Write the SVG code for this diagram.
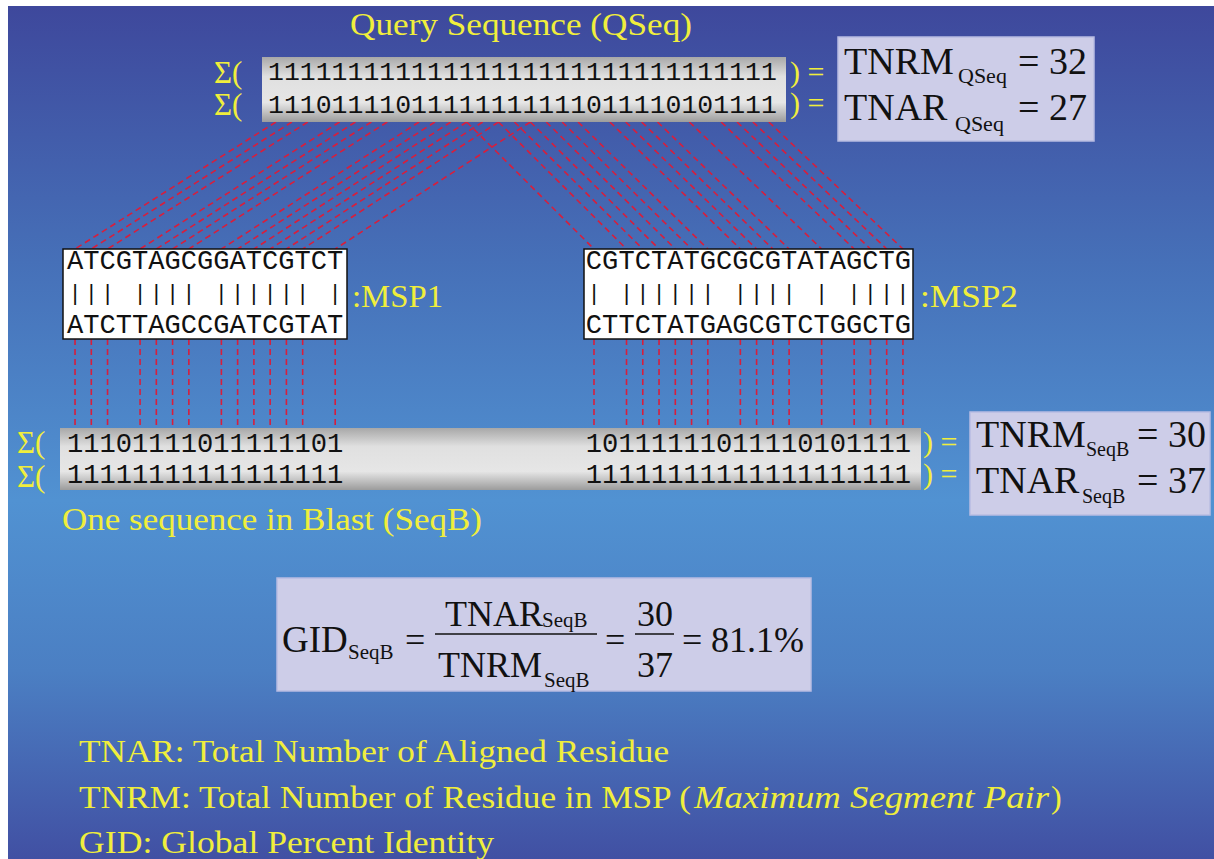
<svg xmlns="http://www.w3.org/2000/svg" width="1214" height="859" viewBox="0 0 1214 859">
<defs>
<linearGradient id="bg" x1="0" y1="0" x2="0" y2="1">
<stop offset="0" stop-color="#3e489c"/>
<stop offset="0.3" stop-color="#4670b8"/>
<stop offset="0.58" stop-color="#5192d2"/>
<stop offset="0.78" stop-color="#4b7fc3"/>
<stop offset="1" stop-color="#4150a3"/>
</linearGradient>
<linearGradient id="band" x1="0" y1="0" x2="0" y2="1">
<stop offset="0" stop-color="#a8a8a8"/>
<stop offset="0.3" stop-color="#e0e0e0"/>
<stop offset="0.7" stop-color="#e6e6e6"/>
<stop offset="1" stop-color="#9c9c9c"/>
</linearGradient>
<style>
.y{fill:#f0ee3c;font-family:"Liberation Serif","Times New Roman",serif;}
.seq{font-family:"Liberation Mono","Courier New",monospace;fill:#111;}
.m{font-family:"Liberation Serif","Times New Roman",serif;fill:#111;}
.d line{stroke:#d81e3c;stroke-width:1.6;stroke-dasharray:6 4;fill:none;}
.lav{fill:#cdcde8;stroke:#b8bce2;stroke-width:1.5;}
.msp{fill:#fff;stroke:#111;stroke-width:1.5;}
</style>
</defs>
<rect x="0" y="0" width="1214" height="859" fill="#fff"/>
<rect x="8" y="6" width="1206" height="853" fill="url(#bg)"/>

<g id="connectors" class="d">
<line x1="275.95" y1="122" x2="75.03" y2="249"/>
<line x1="291.85" y1="122" x2="91.29" y2="249"/>
<line x1="307.75" y1="122" x2="107.55" y2="249"/>
<line x1="339.55" y1="122" x2="140.07" y2="249"/>
<line x1="355.45" y1="122" x2="156.33" y2="249"/>
<line x1="371.35" y1="122" x2="172.59" y2="249"/>
<line x1="387.25" y1="122" x2="188.85" y2="249"/>
<line x1="419.05" y1="122" x2="221.37" y2="249"/>
<line x1="434.95" y1="122" x2="237.63" y2="249"/>
<line x1="450.85" y1="122" x2="253.89" y2="249"/>
<line x1="466.75" y1="122" x2="270.15" y2="249"/>
<line x1="482.65" y1="122" x2="286.41" y2="249"/>
<line x1="498.55" y1="122" x2="302.67" y2="249"/>
<line x1="530.35" y1="122" x2="335.19" y2="249"/>
<line x1="466.75" y1="122" x2="594" y2="249"/>
<line x1="498.55" y1="122" x2="626.52" y2="249"/>
<line x1="514.45" y1="122" x2="642.78" y2="249"/>
<line x1="530.35" y1="122" x2="659.04" y2="249"/>
<line x1="546.25" y1="122" x2="675.3" y2="249"/>
<line x1="562.15" y1="122" x2="691.56" y2="249"/>
<line x1="578.05" y1="122" x2="707.82" y2="249"/>
<line x1="609.85" y1="122" x2="740.34" y2="249"/>
<line x1="625.75" y1="122" x2="756.6" y2="249"/>
<line x1="641.65" y1="122" x2="772.86" y2="249"/>
<line x1="657.55" y1="122" x2="789.12" y2="249"/>
<line x1="689.35" y1="122" x2="821.64" y2="249"/>
<line x1="721.15" y1="122" x2="854.16" y2="249"/>
<line x1="737.05" y1="122" x2="870.42" y2="249"/>
<line x1="752.95" y1="122" x2="886.68" y2="249"/>
<line x1="768.85" y1="122" x2="902.94" y2="249"/>
<line x1="75.03" y1="339" x2="75.03" y2="429"/>
<line x1="91.29" y1="339" x2="91.29" y2="429"/>
<line x1="107.55" y1="339" x2="107.55" y2="429"/>
<line x1="140.07" y1="339" x2="140.07" y2="429"/>
<line x1="156.33" y1="339" x2="156.33" y2="429"/>
<line x1="172.59" y1="339" x2="172.59" y2="429"/>
<line x1="188.85" y1="339" x2="188.85" y2="429"/>
<line x1="221.37" y1="339" x2="221.37" y2="429"/>
<line x1="237.63" y1="339" x2="237.63" y2="429"/>
<line x1="253.89" y1="339" x2="253.89" y2="429"/>
<line x1="270.15" y1="339" x2="270.15" y2="429"/>
<line x1="286.41" y1="339" x2="286.41" y2="429"/>
<line x1="302.67" y1="339" x2="302.67" y2="429"/>
<line x1="335.19" y1="339" x2="335.19" y2="429"/>
<line x1="594" y1="339" x2="594" y2="429"/>
<line x1="626.52" y1="339" x2="626.52" y2="429"/>
<line x1="642.78" y1="339" x2="642.78" y2="429"/>
<line x1="659.04" y1="339" x2="659.04" y2="429"/>
<line x1="675.3" y1="339" x2="675.3" y2="429"/>
<line x1="691.56" y1="339" x2="691.56" y2="429"/>
<line x1="707.82" y1="339" x2="707.82" y2="429"/>
<line x1="740.34" y1="339" x2="740.34" y2="429"/>
<line x1="756.6" y1="339" x2="756.6" y2="429"/>
<line x1="772.86" y1="339" x2="772.86" y2="429"/>
<line x1="789.12" y1="339" x2="789.12" y2="429"/>
<line x1="821.64" y1="339" x2="821.64" y2="429"/>
<line x1="854.16" y1="339" x2="854.16" y2="429"/>
<line x1="870.42" y1="339" x2="870.42" y2="429"/>
<line x1="886.68" y1="339" x2="886.68" y2="429"/>
<line x1="902.94" y1="339" x2="902.94" y2="429"/>
</g>

<g id="query">
<text class="y" x="350" y="35" font-size="32" textLength="342" lengthAdjust="spacingAndGlyphs">Query Sequence (QSeq)</text>
<rect x="262" y="57" width="524" height="65" fill="url(#band)"/>
<text class="seq" x="268" y="80" font-size="26.5">11111111111111111111111111111111</text>
<text class="seq" x="268" y="113" font-size="26.5">11101111011111111111011110101111</text>
<text class="y" x="214" y="83" font-size="31">Σ(</text>
<text class="y" x="214" y="115" font-size="31">Σ(</text>
<text class="y" x="790" y="82" font-size="30">) =</text>
<text class="y" x="790" y="113" font-size="30">) =</text>
</g>

<g id="qseq-totals">
<rect class="lav" x="838" y="37" width="256" height="104"/>
<text class="m" x="844" y="74" font-size="38">TNRM</text>
<text class="m" x="958" y="83" font-size="22">QSeq</text>
<text class="m" x="1018" y="74" font-size="38">= 32</text>
<text class="m" x="844" y="120" font-size="38">TNAR</text>
<text class="m" x="955" y="131" font-size="22">QSeq</text>
<text class="m" x="1018" y="120" font-size="38">= 27</text>
</g>

<g id="msp1">
<rect class="msp" x="63" y="249" width="284" height="90"/>
<text class="seq" x="66.9" y="269" font-size="27.1">ATCGTAGCGGATCGTCT</text>
<text class="seq" x="68.43" y="300" font-size="22" letter-spacing="3.06">||| |||| |||||| |</text>
<text class="seq" x="66.9" y="333" font-size="27.1">ATCTTAGCCGATCGTAT</text>
<text class="y" x="352" y="307" font-size="32" textLength="91" lengthAdjust="spacingAndGlyphs">:MSP1</text>
</g>

<g id="msp2">
<rect class="msp" x="584" y="249" width="329" height="90"/>
<text class="seq" x="585.87" y="269" font-size="27.1">CGTCTATGCGCGTATAGCTG</text>
<text class="seq" x="587.4" y="300" font-size="22" letter-spacing="3.06">| |||||| |||| | ||||</text>
<text class="seq" x="585.87" y="333" font-size="27.1">CTTCTATGAGCGTCTGGCTG</text>
<text class="y" x="920" y="307" font-size="32" textLength="98" lengthAdjust="spacingAndGlyphs">:MSP2</text>
</g>

<g id="seqb">
<rect x="60" y="428" width="861" height="62" fill="url(#band)"/>
<text class="seq" x="66.9" y="452" font-size="27.1">11101111011111101</text>
<text class="seq" x="66.9" y="483" font-size="27.1">11111111111111111</text>
<text class="seq" x="585.87" y="452" font-size="27.1">10111111011110101111</text>
<text class="seq" x="585.87" y="483" font-size="27.1">11111111111111111111</text>
<text class="y" x="17" y="453" font-size="31">Σ(</text>
<text class="y" x="17" y="487" font-size="31">Σ(</text>
<text class="y" x="923" y="452" font-size="30">) =</text>
<text class="y" x="923" y="484" font-size="30">) =</text>
<text class="y" x="62" y="530" font-size="32" textLength="420" lengthAdjust="spacingAndGlyphs">One sequence in Blast (SeqB)</text>
</g>

<g id="seqb-totals">
<rect class="lav" x="970" y="412" width="240" height="103"/>
<text class="m" x="976" y="447" font-size="38">TNRM</text>
<text class="m" x="1086" y="456" font-size="20">SeqB</text>
<text class="m" x="1137" y="447" font-size="38">= 30</text>
<text class="m" x="976" y="493" font-size="38">TNAR</text>
<text class="m" x="1082" y="503" font-size="20">SeqB</text>
<text class="m" x="1137" y="493" font-size="38">= 37</text>
</g>

<g id="gid-formula">
<rect class="lav" x="277" y="578" width="534" height="113"/>
<text class="m" x="282" y="652" font-size="37">GID</text>
<text class="m" x="348" y="659" font-size="21">SeqB</text>
<text class="m" x="405" y="652" font-size="36">=</text>
<text class="m" x="445" y="626" font-size="36">TNAR</text>
<text class="m" x="542" y="627" font-size="21">SeqB</text>
<line x1="435" y1="634" x2="597" y2="634" stroke="#111" stroke-width="1.6"/>
<text class="m" x="438" y="677" font-size="36">TNRM</text>
<text class="m" x="544" y="687" font-size="21">SeqB</text>
<text class="m" x="605" y="652" font-size="36">=</text>
<text class="m" x="637" y="626" font-size="36">30</text>
<line x1="635" y1="634" x2="674" y2="634" stroke="#111" stroke-width="1.6"/>
<text class="m" x="637" y="677" font-size="36">37</text>
<text class="m" x="682" y="652" font-size="36">=</text>
<text class="m" x="711" y="652" font-size="36">81.1%</text>
</g>

<g id="legend">
<text class="y" x="79" y="762" font-size="32" textLength="590" lengthAdjust="spacingAndGlyphs">TNAR: Total Number of Aligned Residue</text>
<text class="y" x="79" y="808" font-size="32" textLength="612" lengthAdjust="spacingAndGlyphs">TNRM: Total Number of Residue in MSP (</text>
<text class="y" x="694" y="808" font-size="32" font-style="italic" textLength="355" lengthAdjust="spacingAndGlyphs">Maximum Segment Pair</text>
<text class="y" x="1051" y="808" font-size="32">)</text>
<text class="y" x="79" y="853" font-size="32" textLength="415" lengthAdjust="spacingAndGlyphs">GID: Global Percent Identity</text>
</g>
</svg>
